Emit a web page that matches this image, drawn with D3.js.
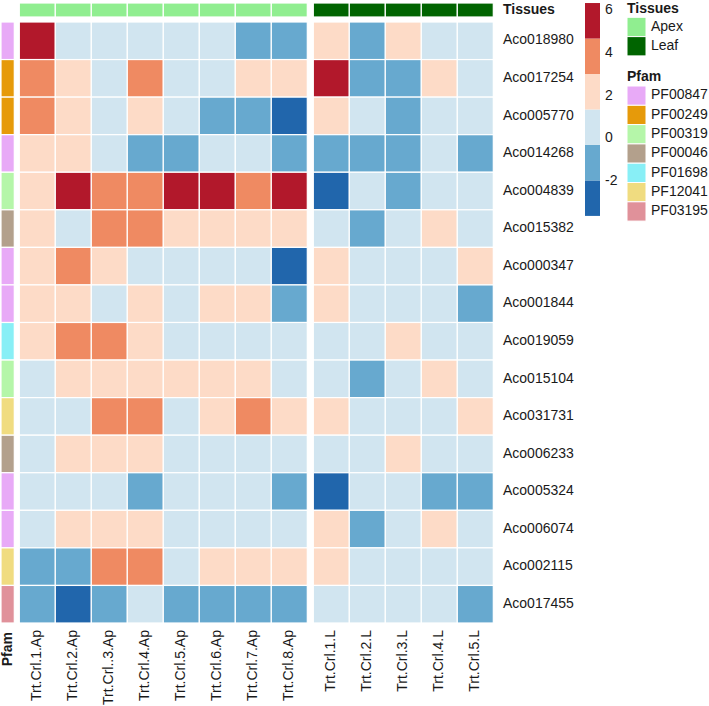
<!DOCTYPE html>
<html>
<head>
<meta charset="utf-8">
<script src="https://cdn.jsdelivr.net/npm/d3@7"></script>
<style>
  body { margin: 0; background: #fff; }
  svg { font-family: "Liberation Sans", Arial, sans-serif; }
</style>
</head>
<body>
<div id="chart"></div>
<script>
// genes (rows), samples (columns)
const genes = ['Aco018980', 'Aco017254', 'Aco005770', 'Aco014268', 'Aco004839', 'Aco015382',
  'Aco000347', 'Aco001844', 'Aco019059', 'Aco015104', 'Aco031731', 'Aco006233',
  'Aco005324', 'Aco006074', 'Aco002115', 'Aco017455'];
const samples = ['Trt.Crl.1.Ap', 'Trt.Crl.2.Ap', 'Trt.Crl..3.Ap', 'Trt.Crl.4.Ap', 'Trt.Crl.5.Ap',
  'Trt.Crl.6.Ap', 'Trt.Crl.7.Ap', 'Trt.Crl.8.Ap',
  'Trt.Crl.1.L', 'Trt.Crl.2.L', 'Trt.Crl.3.L', 'Trt.Crl.4.L', 'Trt.Crl.5.L'];
const tissueOfSample = ['Apex', 'Apex', 'Apex', 'Apex', 'Apex', 'Apex', 'Apex', 'Apex',
  'Leaf', 'Leaf', 'Leaf', 'Leaf', 'Leaf'];
const pfamOfGene = ['PF00847', 'PF00249', 'PF00249', 'PF00847', 'PF00319', 'PF00046',
  'PF00847', 'PF00847', 'PF01698', 'PF00319', 'PF12041', 'PF00046',
  'PF00847', 'PF00847', 'PF12041', 'PF03195'];

// expression values (log2 fc), one array per gene
const values = [
  [5.5, 0.5, 0.5, 0.5, 0.5, 0.5, -1.1, -1.1, 2.2, -1.1, 2.2, 0.5, 0.5],
  [3.9, 2.2, 0.5, 3.9, 0.5, 0.5, 2.2, 2.2, 5.5, -1.1, -1.1, 2.2, 0.5],
  [3.9, 2.2, 0.5, 2.2, 0.5, -1.1, -1.1, -2.8, 2.2, 0.5, -1.1, 0.5, 0.5],
  [2.2, 2.2, 0.5, -1.1, -1.1, 0.5, 0.5, -1.1, -1.1, -1.1, -1.1, 0.5, -1.1],
  [2.2, 5.5, 3.9, 3.9, 5.5, 5.5, 3.9, 5.5, -2.8, 0.5, -1.1, 0.5, 0.5],
  [2.2, 0.5, 3.9, 3.9, 2.2, 2.2, 2.2, 2.2, 0.5, -1.1, 0.5, 2.2, 0.5],
  [2.2, 3.9, 2.2, 0.5, 0.5, 0.5, 0.5, -2.8, 2.2, 0.5, 0.5, 0.5, 2.2],
  [2.2, 2.2, 0.5, 2.2, 0.5, 2.2, 2.2, -1.1, 2.2, 0.5, 0.5, 0.5, -1.1],
  [2.2, 3.9, 3.9, 2.2, 0.5, 0.5, 0.5, 0.5, 0.5, 0.5, 2.2, 0.5, 0.5],
  [0.5, 2.2, 2.2, 2.2, 2.2, 2.2, 2.2, 0.5, 0.5, -1.1, 0.5, 2.2, 0.5],
  [0.5, 0.5, 3.9, 3.9, 0.5, 2.2, 3.9, 2.2, 2.2, 0.5, 0.5, 0.5, 2.2],
  [0.5, 2.2, 2.2, 2.2, 0.5, 0.5, 0.5, 0.5, 0.5, 0.5, 2.2, 0.5, 0.5],
  [0.5, 0.5, 0.5, -1.1, 0.5, 0.5, 0.5, -1.1, -2.8, 0.5, 0.5, -1.1, -1.1],
  [0.5, 2.2, 2.2, 2.2, 0.5, 0.5, 0.5, 0.5, 2.2, -1.1, 0.5, 2.2, 0.5],
  [-1.1, -1.1, 3.9, 3.9, 0.5, 2.2, 2.2, 2.2, 2.2, 0.5, 0.5, 0.5, 0.5],
  [-1.1, -2.8, -1.1, 0.5, -1.1, -1.1, -1.1, -1.1, 0.5, 0.5, 0.5, 0.5, -1.1]
];

const colorTicks = [-2, 0, 2, 4, 6];
const tissues = ['Apex', 'Leaf'];
const tissueColors = ['#90EE90', '#006400'];
const pfams = ['PF00847', 'PF00249', 'PF00319', 'PF00046', 'PF01698', 'PF12041', 'PF03195'];
const pfamColors = ['#E8AAF7', '#E69A0A', '#B5F6A9', '#B3A08C', '#88EFF6', '#F0DC80', '#E0919A'];

const width = 709, height = 706;
const fontSize = '14px';
const svg = d3.select('#chart').append('svg')
  .attr('width', width)
  .attr('height', height);

// scales
const heatColor = d3.scaleQuantize()
  .domain([-3.64, 6.36])
  .range(['#2166AC', '#67A9CF', '#D1E5F0', '#FDDBC7', '#EF8A62', '#B2182B']);
const tissueColor = d3.scaleOrdinal().domain(tissues).range(tissueColors);
const pfamColor = d3.scaleOrdinal().domain(pfams).range(pfamColors);

const gap = 6;
const x0 = d3.scaleBand().domain(samples).range([19.3, 19.3 + 36 * samples.length]);
const xPos = (s) => x0(s) + (tissueOfSample[samples.indexOf(s)] === 'Leaf' ? gap : 0);
const y = d3.scaleBand().domain(genes).range([22, 623]);

// cells
const cells = [];
genes.forEach((g, i) => samples.forEach((s, j) => cells.push({ g, s, v: values[i][j] })));

svg.append('g').selectAll('rect')
  .data(cells)
  .enter()
  .append('rect')
  .attr('x', d => xPos(d.s))
  .attr('y', d => y(d.g))
  .attr('width', x0.bandwidth())
  .attr('height', y.bandwidth())
  .attr('fill', d => heatColor(d.v))
  .attr('stroke', '#fff')
  .attr('stroke-width', 1.2);

// tissue annotation bar
svg.append('g').selectAll('rect')
  .data(samples)
  .enter()
  .append('rect')
  .attr('x', d => xPos(d))
  .attr('y', 3)
  .attr('width', x0.bandwidth())
  .attr('height', 14)
  .attr('fill', (d, i) => tissueColor(tissueOfSample[i]))
  .attr('stroke', '#fff')
  .attr('stroke-width', 1.2);

svg.append('text')
  .attr('x', 503)
  .attr('y', 10.5)
  .attr('dominant-baseline', 'middle')
  .attr('font-size', fontSize)
  .attr('font-weight', '700')
  .attr('fill', '#1a1a1a')
  .text('Tissues');

// pfam annotation column
svg.append('g').selectAll('rect')
  .data(genes)
  .enter()
  .append('rect')
  .attr('x', 1)
  .attr('y', d => y(d))
  .attr('width', 13.3)
  .attr('height', y.bandwidth())
  .attr('fill', (d, i) => pfamColor(pfamOfGene[i]))
  .attr('stroke', '#fff')
  .attr('stroke-width', 1.2);

svg.append('text')
  .attr('transform', 'translate(8,632) rotate(-90)')
  .attr('text-anchor', 'end')
  .attr('dominant-baseline', 'middle')
  .attr('font-size', fontSize)
  .attr('font-weight', '700')
  .attr('fill', '#1a1a1a')
  .text('Pfam');

// row labels
svg.append('g').selectAll('text')
  .data(genes)
  .enter()
  .append('text')
  .attr('x', 503)
  .attr('y', d => y(d) + y.bandwidth() / 2)
  .attr('dominant-baseline', 'middle')
  .attr('font-size', fontSize)
  .attr('fill', '#1a1a1a')
  .text(d => d);

// column labels
svg.append('g').selectAll('text')
  .data(samples)
  .enter()
  .append('text')
  .attr('transform', d => `translate(${xPos(d) + x0.bandwidth() / 2},630) rotate(-90)`)
  .attr('text-anchor', 'end')
  .attr('dominant-baseline', 'middle')
  .attr('font-size', fontSize)
  .attr('fill', '#1a1a1a')
  .text(d => d);

// colour bar
const cbY = d3.scaleLinear().domain([-2, 6]).range([181, 10.7]);
const cb = svg.append('g');
cb.selectAll('rect')
  .data(heatColor.range())
  .enter()
  .append('rect')
  .attr('x', 585)
  .attr('y', d => cbY(heatColor.invertExtent(d)[1]))
  .attr('width', 15)
  .attr('height', d => cbY(heatColor.invertExtent(d)[0]) - cbY(heatColor.invertExtent(d)[1]))
  .attr('fill', d => d);

cb.selectAll('text')
  .data(colorTicks)
  .enter()
  .append('text')
  .attr('x', 605)
  .attr('y', d => cbY(d))
  .attr('dominant-baseline', 'middle')
  .attr('font-size', fontSize)
  .attr('fill', '#1a1a1a')
  .text(d => d);

// legends
const lg = svg.append('g');
lg.append('text')
  .attr('x', 627)
  .attr('y', 9)
  .attr('dominant-baseline', 'middle')
  .attr('font-size', fontSize)
  .attr('font-weight', '700')
  .attr('fill', '#1a1a1a')
  .text('Tissues');

tissues.forEach((t, i) => {
  lg.append('rect')
    .attr('x', 627)
    .attr('y', 17.3 + i * 19.3)
    .attr('width', 19)
    .attr('height', 19.3)
    .attr('fill', tissueColor(t))
    .attr('stroke', '#fff')
    .attr('stroke-width', 1);
  lg.append('text')
    .attr('x', 651)
    .attr('y', 17.3 + i * 19.3 + 9.6)
    .attr('dominant-baseline', 'middle')
    .attr('font-size', fontSize)
    .attr('fill', '#1a1a1a')
    .text(t);
});

lg.append('text')
  .attr('x', 627)
  .attr('y', 77)
  .attr('dominant-baseline', 'middle')
  .attr('font-size', fontSize)
  .attr('font-weight', '700')
  .attr('fill', '#1a1a1a')
  .text('Pfam');

pfams.forEach((p, i) => {
  lg.append('rect')
    .attr('x', 627)
    .attr('y', 86 + i * 19.3)
    .attr('width', 19)
    .attr('height', 19.3)
    .attr('fill', pfamColor(p))
    .attr('stroke', '#fff')
    .attr('stroke-width', 1);
  lg.append('text')
    .attr('x', 651)
    .attr('y', 86 + i * 19.3 + 9.6)
    .attr('dominant-baseline', 'middle')
    .attr('font-size', fontSize)
    .attr('fill', '#1a1a1a')
    .text(p);
});
</script>
</body>
</html>
